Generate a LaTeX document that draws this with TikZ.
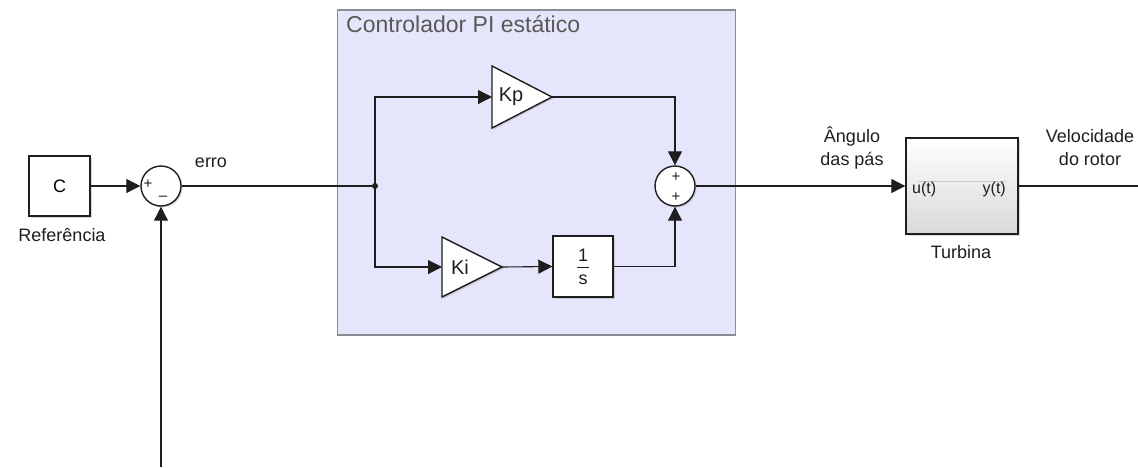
\documentclass[tikz,border=0pt]{standalone}
\usepackage{fontspec}
\setmainfont{Liberation Sans}
\usetikzlibrary{arrows.meta,shadows}
\definecolor{subfill}{RGB}{229,229,252}
\definecolor{subdraw}{RGB}{140,140,150}
\definecolor{ink}{RGB}{30,30,30}
\begin{document}
\begin{tikzpicture}[x=1pt,y=-1pt,
  wire/.style={line width=1.1pt, draw=ink},
  arr/.style={wire,-{Triangle[length=14pt,width=14pt]}},
  shad/.style={drop shadow={shadow xshift=1.5pt,shadow yshift=-1.5pt,opacity=0.3}},
  blk/.style={draw=ink,line width=1.4pt,fill=white,shad,inner sep=0pt},
  sumblk/.style={blk,circle,minimum size=40pt},
  lbl/.style={font=\fontsize{18}{23}\selectfont, text=ink, align=center, inner sep=0pt},
  sgn/.style={font=\fontsize{15}{15}\selectfont, text=ink, inner sep=0pt},
  port/.style={font=\fontsize{16}{16}\selectfont, text=ink, inner sep=0pt},
  gaintxt/.style={font=\fontsize{20}{20}\selectfont, text=ink, inner sep=0pt},
  title/.style={font=\fontsize{23}{23}\selectfont, text=black!65, inner sep=0pt, anchor=west}
]
\useasboundingbox (0,0) rectangle (1138,467);

% subsystem
\node[draw=subdraw, line width=1.2pt, fill=subfill, minimum width=398pt, minimum height=325pt, inner sep=0pt] (sub) at (536.5,172.5) {};
\node[title] (subt) at (346,24) {Controlador PI estático};

% blocks
\node[blk, minimum width=61pt, minimum height=60pt, font=\fontsize{18}{18}\selectfont] (C) at (59.5,186) {C};
\node[lbl] (ref) at (62,235) {Referência};
\node[sumblk] (s1) at (161,186) {};
\node[sgn] (s1p) at (148,184) {+};
\node[sgn] (s1m) at (163,198) {--};
\node[lbl] (erro) at (211,163) {erro};

\coordinate (j) at (375,186);
\fill[ink] (j) circle (3pt);

% Kp gain
\coordinate (kpin) at (492,97);
\coordinate (kpout) at (552,97);
\draw[blk] (492,66) -- (552,97) -- (492,128) -- cycle;
\node[gaintxt] (kpt) at (511,97) {Kp};

% Ki gain
\coordinate (kiin) at (442,267);
\coordinate (kiout) at (502,267);
\draw[blk] (442,237) -- (502,267) -- (442,297) -- cycle;
\node[gaintxt] (kit) at (460,267) {Ki};

% integrator
\node[blk, minimum width=60pt, minimum height=61pt] (int) at (583,266.5) {};
\node[lbl] (num) at (583,255) {1};
\node[lbl] (den) at (583,280) {s};
\draw[line width=0.9pt, ink] (577,267) -- (589,267);

% sum 2
\node[sumblk] (s2) at (675,186) {};
\node[sgn] (s2a) at (676,177) {+};
\node[sgn] (s2b) at (676,197) {+};

% turbine
\node[draw=ink, line width=1.4pt, top color=white, bottom color=black!15, shad, minimum width=112pt, minimum height=96pt, inner sep=0pt] (turb) at (962,186) {};
\draw[black!20, line width=0.8pt] (918,181) -- (1006,181);
\node[port, anchor=west] (u) at (912,189) {u(t)};
\node[port, anchor=east] (y) at (1006,189) {y(t)};
\node[lbl] (turbl) at (961,252) {Turbina};
\node[lbl] (ang) at (852,148) {Ângulo\\das pás};
\node[lbl] (vel) at (1090,148) {Velocidade\\do rotor};

\coordinate (outend) at (1138,186);
\coordinate (fb) at (161,467);

% wires
\draw[arr] (C.east) -- (s1.west);
\draw[wire] (s1.east) -- (j);
\draw[arr] (j) |- (kpin);
\draw[arr] (j) |- (kiin);
\draw[arr] (kiout) -- (int.west);
\draw[arr] (kpout) -| (s2.north);
\draw[arr] (int.east) -| (s2.south);
\draw[arr] (s2.east) -- (turb.west);
\draw[wire] (turb.east) -- (outend);
\draw[arr] (fb) -- (s1.south);
\end{tikzpicture}
\end{document}
